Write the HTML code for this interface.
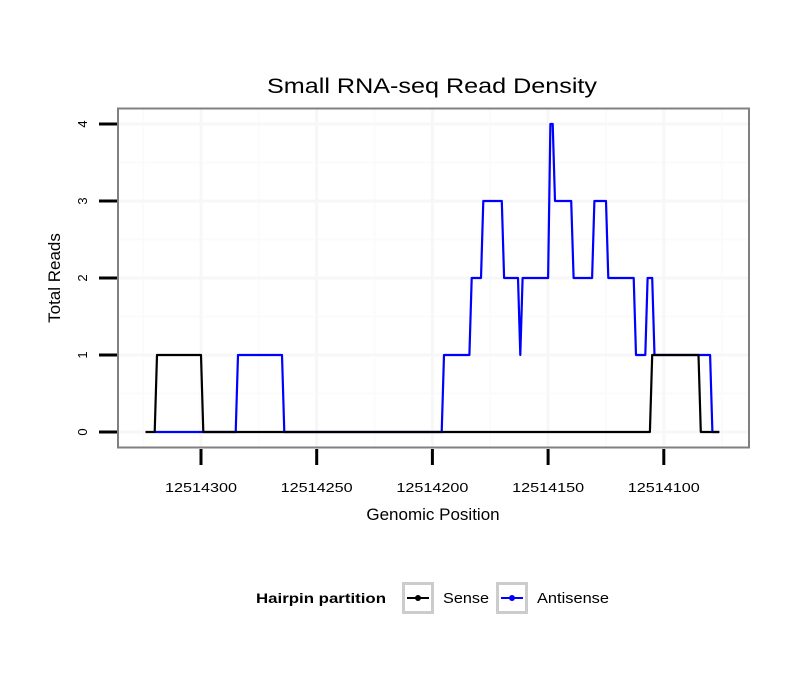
<!DOCTYPE html>
<html><head><meta charset="utf-8"><style>body{margin:0;background:#fff}svg{display:block;font-family:"Liberation Sans",Arial,sans-serif}</style></head>
<body>
<svg id="chart" width="810" height="690" viewBox="0 0 810 690" xmlns="http://www.w3.org/2000/svg">
<text x="432" y="93" font-size="21" text-anchor="middle" textLength="330" lengthAdjust="spacingAndGlyphs">Small RNA-seq Read Density</text>
<g id="grid"></g>
<g id="series"></g>
<rect x="118" y="108.5" width="631" height="339" fill="none" stroke="#808080" stroke-width="2"/>
<g id="axes"></g>
<text x="433" y="520" font-size="17" text-anchor="middle">Genomic Position</text>
<text x="0" y="0" font-size="17" text-anchor="middle" transform="translate(60,278) rotate(-90)">Total Reads</text>
<g>
<text x="256" y="603" font-size="14" font-weight="bold" textLength="130" lengthAdjust="spacingAndGlyphs">Hairpin partition</text>
<g>
<rect x="403.5" y="583.5" width="29" height="29" fill="#fff" stroke="#cccccc" stroke-width="3"/>
<line x1="407" y1="598" x2="429" y2="598" stroke="#000" stroke-width="2"/><circle cx="418" cy="598" r="3" fill="#000"/>
<text x="443" y="603" font-size="15" textLength="46" lengthAdjust="spacingAndGlyphs">Sense</text></g>
<g>
<rect x="497.5" y="583.5" width="29" height="29" fill="#fff" stroke="#cccccc" stroke-width="3"/>
<line x1="501" y1="598" x2="523" y2="598" stroke="#00f" stroke-width="2"/><circle cx="512" cy="598" r="3" fill="#00f"/>
<text x="537" y="603" font-size="15" textLength="72" lengthAdjust="spacingAndGlyphs">Antisense</text></g>
</g>
</svg>
<script>
const xTicks=[12514300,12514250,12514200,12514150,12514100];
const yTicks=[0,1,2,3,4];
const sensePos=[12514324,12514320,12514319,12514300,12514299,12514106,12514105,12514085,12514084,12514076];
const senseVal=[0,0,1,1,0,0,1,1,0,0];
const antiPos=[12514320,12514285,12514284,12514265,12514264,12514196,12514195,12514184,12514183,12514179,12514178,12514170,12514169,12514163,12514162,12514161,12514150,12514149,12514148,12514147,12514140,12514139,12514131,12514130,12514125,12514124,12514113,12514112,12514108,12514107,12514105,12514104,12514080,12514079,12514076];
const antiVal=[0,0,1,1,0,0,1,1,2,2,3,3,2,2,1,2,2,4,4,3,3,2,2,3,3,2,2,1,1,2,2,1,1,0,0];
const NS='http://www.w3.org/2000/svg';
const X=p=>201+(12514300-p)*(115.7/50);
const Y=v=>432-v*77;
function mk(tag,attrs,parent){const e=document.createElementNS(NS,tag);for(const k in attrs)e.setAttribute(k,attrs[k]);parent.appendChild(e);return e;}
const grid=document.getElementById('grid'),axes=document.getElementById('axes'),series=document.getElementById('series');
for(let i=0;i<xTicks.length+1;i++){const p=xTicks[0]+25-50*i;const x=X(p);if(x>118&&x<749){const l=mk('line',{x1:x,x2:x,y1:109,y2:447,stroke:'#fbfbfb','stroke-width':2},grid);

}}
for(let v=-0.5;v<=4.5;v+=1){const y=Y(v);if(y>109&&y<447){const l=mk('line',{x1:118,x2:749,y1:y,y2:y,stroke:'#fbfbfb','stroke-width':2},grid);

}}
xTicks.forEach(t=>{const x=X(t);
const g=mk('line',{x1:x,x2:x,y1:109,y2:447,stroke:'#f7f7f7','stroke-width':3},grid);


const tk=mk('line',{x1:x,x2:x,y1:449,y2:465,stroke:'#000','stroke-width':3},axes);


const tx=mk('text',{x:x,y:492,'font-size':13,'text-anchor':'middle',textLength:72,lengthAdjust:'spacingAndGlyphs'},axes);tx.textContent=t;

});
yTicks.forEach(v=>{const y=Y(v);
const g=mk('line',{x1:118,x2:749,y1:y,y2:y,stroke:'#f7f7f7','stroke-width':3},grid);


const tk=mk('line',{x1:99,x2:117,y1:y,y2:y,stroke:'#000','stroke-width':3},axes);


const tx=mk('text',{x:0,y:0,'font-size':13,'text-anchor':'middle',transform:`translate(87,${y}) rotate(-90)`},axes);tx.textContent=v;

});
function path(pos,val){return pos.map((p,i)=>(i?'L':'M')+X(p).toFixed(1)+','+Y(val[i]).toFixed(1)).join(' ');}
const a=mk('path',{d:path(antiPos,antiVal),fill:'none',stroke:'#0000ff','stroke-width':2.2,'stroke-linejoin':'round'},series);


const s=mk('path',{d:path(sensePos,senseVal),fill:'none',stroke:'#000','stroke-width':2.2,'stroke-linejoin':'round'},series);


</script>
</body></html>
